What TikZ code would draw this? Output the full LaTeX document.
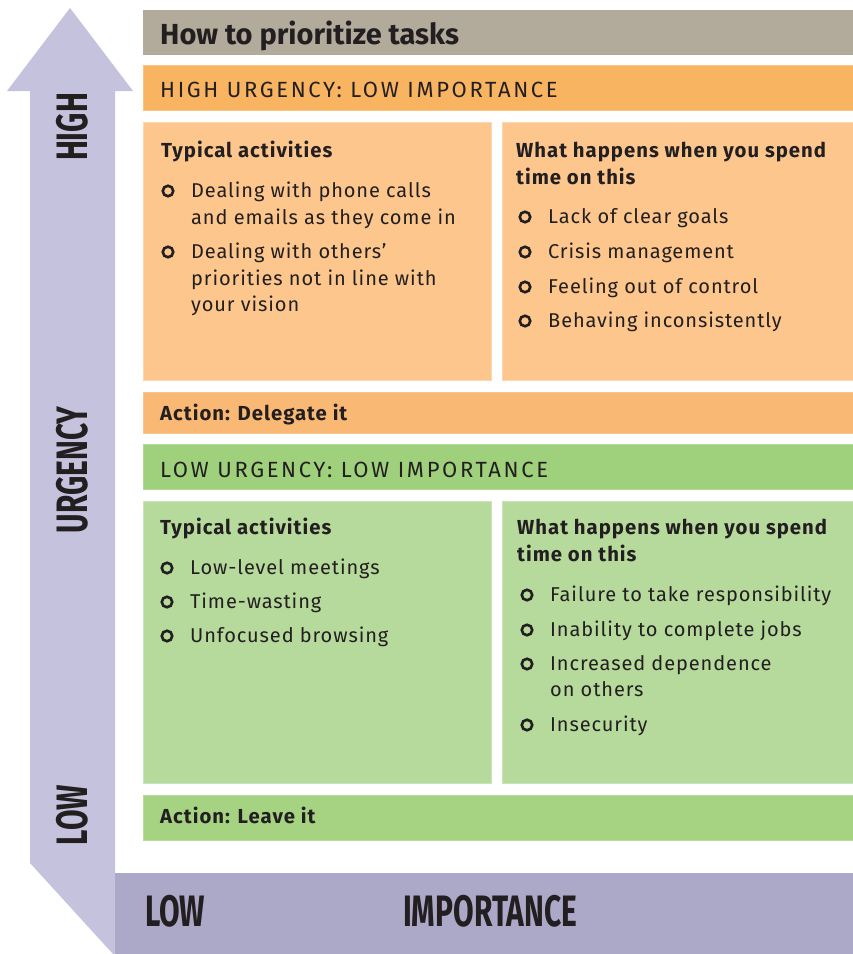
\documentclass[tikz,border=0pt]{standalone}
\usepackage{fontspec}
\setmainfont{Fira Sans}
\newfontfamily\bodyf{Fira Sans}[LetterSpace=4.5]
\newfontfamily\boldf{Fira Sans}[LetterSpace=5]
\newfontfamily\headf{Fira Sans}[LetterSpace=12]
\newfontfamily\axisf{Fira Sans}[FakeStretch=0.68]
\definecolor{titlebg}{HTML}{B2AB9B}
\definecolor{orangehead}{HTML}{F9B461}
\definecolor{orangebox}{HTML}{FCC68C}
\definecolor{orangeact}{HTML}{F9B873}
\definecolor{greenhead}{HTML}{9FD07B}
\definecolor{greenbox}{HTML}{B6D99C}
\definecolor{greenact}{HTML}{A5D382}
\definecolor{arrowc}{HTML}{C4C2DC}
\definecolor{barc}{HTML}{ACA8C8}
\definecolor{textc}{HTML}{231F20}
\newcommand\itm[4]{%
  \node[bul] (b#1) at (#2-23,#3-6) {};
  \node[txt] (#1) at (#2,#3) {#4};}
\begin{document}
\begin{tikzpicture}[x=1pt,y=-1pt,
  box/.style={inner sep=0, outer sep=0, anchor=north west, line width=1pt},
  txt/.style={anchor=base west, inner sep=0, text=textc, font=\bodyf\fontsize{20}{24}\selectfont},
  bld/.style={txt, font=\boldf\bfseries\fontsize{20.3}{24}\selectfont},
  hdr/.style={txt, font=\headf\fontsize{22}{24}\selectfont},
  ttl/.style={txt, font=\bfseries\fontsize{29}{34}\selectfont},
  axis/.style={inner sep=0, text=textc, font=\axisf\bfseries\fontsize{44}{48}\selectfont},
  bul/.style={circle, draw=textc, line width=2.6pt, minimum size=10.5pt, inner sep=0}]
\useasboundingbox (0,0) rectangle (853,954);
\fill[white] (0,0) rectangle (853,954);
% axes
\fill[arrowc] (70,8) -- (133,91) -- (115,91) -- (115,954) -- (113,954) -- (30,863) -- (30,91) -- (7,91) -- cycle;
\fill[barc] (115,873) rectangle (853,954);
\node[axis, rotate=90] (high) at (72,127) {HIGH};
\node[axis, rotate=90] (urg) at (72,470) {URGENCY};
\node[axis, rotate=90] (lowv) at (72,815) {LOW};
\node[axis, anchor=base west] (lowh) at (145,926) {LOW};
\node[axis, anchor=base west] (imp) at (403,926) {IMPORTANCE};
% boxes
\node[box, fill=titlebg, minimum width=710pt, minimum height=45pt] (title) at (143,10) {};
\node[box, fill=orangehead, draw=orangehead!80!white, minimum width=710pt, minimum height=45pt] (ohead) at (143,65) {};
\node[box, fill=orangebox, draw=orangebox!70!white, minimum width=348pt, minimum height=258pt] (obl) at (143,122) {};
\node[box, fill=orangebox, draw=orangebox!70!white, minimum width=351pt, minimum height=258pt] (obr) at (502,122) {};
\node[box, fill=orangeact, draw=orangeact!80!white, minimum width=710pt, minimum height=41pt] (oact) at (143,392) {};
\node[box, fill=greenhead, draw=greenhead!80!white, minimum width=710pt, minimum height=45pt] (ghead) at (143,444) {};
\node[box, fill=greenbox, draw=greenbox!70!white, minimum width=348pt, minimum height=282pt] (gbl) at (143,501) {};
\node[box, fill=greenbox, draw=greenbox!70!white, minimum width=351pt, minimum height=282pt] (gbr) at (502,501) {};
\node[box, fill=greenact, draw=greenact!80!white, minimum width=710pt, minimum height=45pt] (gact) at (143,795) {};
% texts
\node[ttl] (ttltxt) at (160,44) {How to prioritize tasks};
\node[hdr] (ohtxt) at (160,97) {HIGH URGENCY: LOW IMPORTANCE};
\node[bld] (olh) at (161,157) {Typical activities};
\itm{o1}{191}{197}{Dealing with phone calls}
\node[txt] (o1b) at (191,224) {and emails as they come in};
\itm{o2}{191}{258}{Dealing with others’}
\node[txt] (o2b) at (191,285) {priorities not in line with};
\node[txt] (o2c) at (191,311) {your vision};
\node[bld] (orh) at (516,157) {What happens when you spend};
\node[bld] (orh2) at (516,184) {time on this};
\itm{o3}{548}{223}{Lack of clear goals}
\itm{o4}{548}{258}{Crisis management}
\itm{o5}{548}{293}{Feeling out of control}
\itm{o6}{548}{327}{Behaving inconsistently}
\node[bld] (oacttxt) at (160,420) {Action: Delegate it};
\node[hdr] (ghtxt) at (160,477) {LOW URGENCY: LOW IMPORTANCE};
\node[bld] (glh) at (160,534) {Typical activities};
\itm{g1}{190}{574}{Low-level meetings}
\itm{g2}{190}{608}{Time-wasting}
\itm{g3}{190}{642}{Unfocused browsing}
\node[bld] (grh) at (517,534) {What happens when you spend};
\node[bld] (grh2) at (517,561) {time on this};
\itm{g4}{550}{601}{Failure to take responsibility}
\itm{g5}{550}{636}{Inability to complete jobs}
\itm{g6}{550}{670}{Increased dependence}
\node[txt] (g6b) at (550,696) {on others};
\itm{g7}{550}{731}{Insecurity}
\node[bld] (gacttxt) at (160,823) {Action: Leave it};
\end{tikzpicture}
\end{document}
